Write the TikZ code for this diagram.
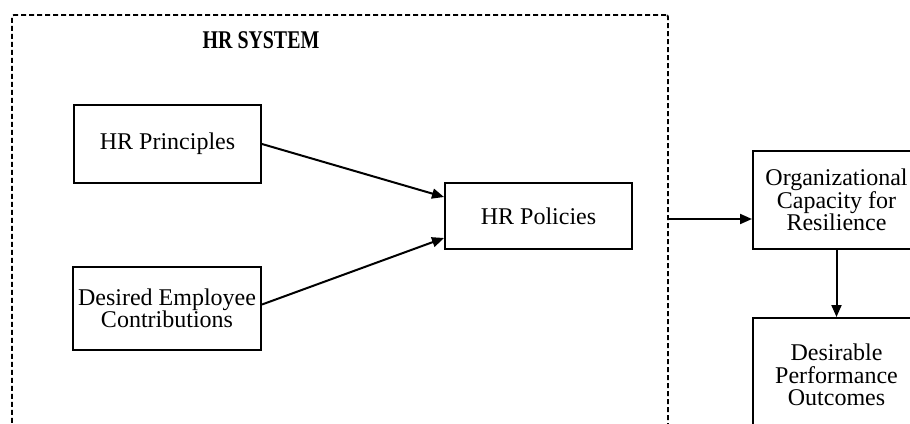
\documentclass[tikz,border=0pt]{standalone}
\usepackage{fontspec}
\setmainfont{Liberation Serif}
\usetikzlibrary{arrows.meta}
\tikzset{
  box/.style={draw, line width=2pt, inner sep=0pt, align=center,
    font=\fontsize{24}{22.5}\selectfont},
  conn/.style={line width=2pt, -{Triangle[length=12pt,width=10pt]}},
  sysbox/.style={draw, line width=1.8pt, dash pattern=on 5pt off 3pt, rounded corners=2pt, inner sep=0pt}
}
\begin{document}
\begin{tikzpicture}[x=1pt,y=-1pt]
\useasboundingbox (0,0) rectangle (910,423);
\clip (0,0) rectangle (910,423);
\fill[white] (0,0) rectangle (910,423);
% HR system dashed frame
\node[sysbox, minimum width=656pt, minimum height=425pt] (sys) at (340,227.5) {};
\node[anchor=base, font=\fontsize{25.5}{25.5}\selectfont\bfseries] (title) at (261,48) {\scalebox{0.78}[1]{HR SYSTEM}};
% boxes
\node[box, minimum width=187pt, minimum height=78pt] (hrp) at (167.5,144) {HR Principles};
\node[box, minimum width=188pt, minimum height=83pt] (dec) at (167,308.5) {Desired Employee\\Contributions};
\node[box, minimum width=187pt, minimum height=66pt] (pol) at (538.5,216) {HR Policies};
\node[box, minimum width=167pt, minimum height=98pt] (org) at (836.5,200) {Organizational\\Capacity for\\Resilience};
\node[box, minimum width=167pt, minimum height=114pt] (des) at (836.5,375) {Desirable\\Performance\\Outcomes};
% connectors
\coordinate (sysout) at (668,219);
\draw[conn] (hrp.east) -- ([yshift=19pt]pol.west);
\draw[conn] ([yshift=4pt]dec.east) -- ([yshift=-22pt]pol.west);
\draw[conn] (sysout) -- (sysout -| org.west);
\draw[conn] (org.south) -- (des.north);
\end{tikzpicture}
\end{document}
